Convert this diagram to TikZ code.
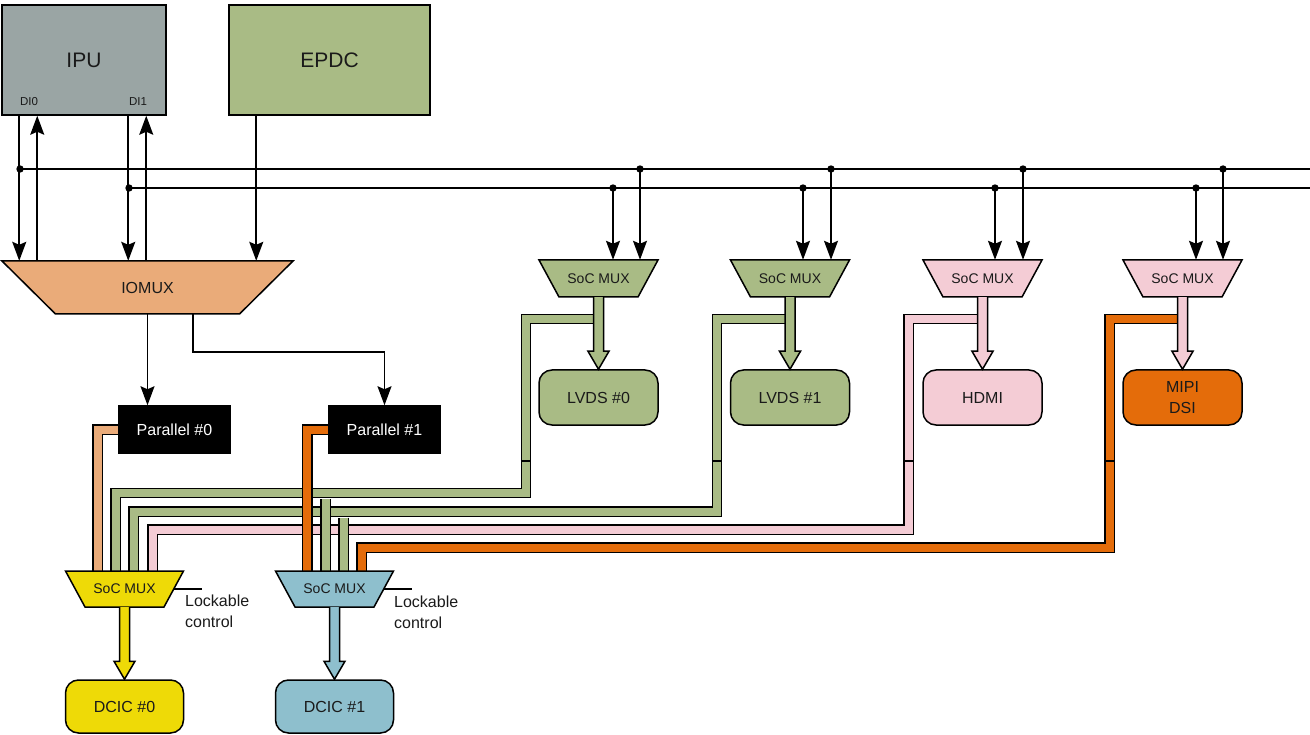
\documentclass[tikz,border=0pt]{standalone}
\usepackage{fontspec}
\setmainfont{Liberation Sans}
\usetikzlibrary{calc,arrows.meta,backgrounds}
\definecolor{ipugray}{HTML}{9AA5A4}
\definecolor{grn}{HTML}{A9BB85}
\definecolor{peach}{HTML}{EAAB79}
\definecolor{pnk}{HTML}{F4CCD5}
\definecolor{org}{HTML}{E46C0A}
\definecolor{ylw}{HTML}{EEDA07}
\definecolor{blu}{HTML}{8EBFCD}
\definecolor{txt}{HTML}{1A1A1A}
\newcommand\fsz[2]{\fontsize{#1}{#2}\selectfont}
\tikzset{
  box/.style={draw, line width=1.5pt, inner sep=0, text=txt},
  rbox/.style={box, rounded corners=13pt},
  thinl/.style={line width=1.6pt},
  arr/.style={thinl, -{Stealth[length=19pt,width=14pt,inset=3pt]}},
  pipe/.style={line width=1.4pt, double=#1, double distance=8pt, line join=miter},
  lbl/.style={inner sep=0, text=txt}
}
% name, cx, cy, top width, bottom width, height, fill, font size, text
\newcommand\muxnode[9]{%
  \draw[fill=#7, line width=1.5pt] ({#2-#4/2},{#3-#6/2}) -- ({#2+#4/2},{#3-#6/2})
     -- ({#2+#5/2},{#3+#6/2}) -- ({#2-#5/2},{#3+#6/2}) -- cycle;
  \node[lbl, minimum width=#4pt, minimum height=#6pt, font=\fsz{#8}{#8}] (#1) at (#2,#3) {#9};
}
% from node, to node, colour
\newcommand\fatarrow[3]{%
  \draw[fill=#3, line width=1.5pt, line join=miter]
    ($(#1.south)+(-5,0)$) -- ($(#2.north)+(-5,-18)$) -- ($(#2.north)+(-10.5,-18)$)
    -- (#2.north) -- ($(#2.north)+(10.5,-18)$) -- ($(#2.north)+(5,-18)$) -- ($(#1.south)+(5,0)$);
}
\begin{document}
\begin{tikzpicture}[x=1pt,y=-1pt]
\useasboundingbox (0,0) rectangle (1310,735);

% top blocks
\node[box, fill=ipugray, minimum width=164pt, minimum height=110pt, font=\fsz{21}{25}] (ipu) at (84,60) {IPU};
\node[box, fill=grn, minimum width=201pt, minimum height=110pt, font=\fsz{21}{25}] (epdc) at (329.5,60) {EPDC};
\node[lbl, font=\fsz{11.5}{14}] (di0) at (29,102) {DI0};
\node[lbl, font=\fsz{11.5}{14}] (di1) at (138,102) {DI1};

% muxes
\muxnode{iomux}{147.5}{287.5}{291}{184}{53}{peach}{16}{IOMUX}
\muxnode{mxa}{598.5}{278.5}{119}{79}{37}{grn}{14}{SoC MUX}
\muxnode{mxb}{790}{278.5}{119}{79}{37}{grn}{14}{SoC MUX}
\muxnode{mxc}{982.5}{278.5}{119}{79}{37}{pnk}{14}{SoC MUX}
\muxnode{mxd}{1182.5}{278.5}{119}{79}{37}{pnk}{14}{SoC MUX}
\muxnode{mx0}{124.5}{589}{118}{79}{36}{ylw}{14}{SoC MUX}
\muxnode{mx1}{334.5}{589}{118}{79}{36}{blu}{14}{SoC MUX}

% output blocks
\node[rbox, fill=grn, minimum width=119pt, minimum height=55pt, font=\fsz{16}{19}] (lv0) at (598.5,397.5) {LVDS \#0};
\node[rbox, fill=grn, minimum width=119pt, minimum height=55pt, font=\fsz{16}{19}] (lv1) at (790,397.5) {LVDS \#1};
\node[rbox, fill=pnk, minimum width=119pt, minimum height=55pt, font=\fsz{16}{19}] (hdmi) at (982.5,397.5) {HDMI};
\node[rbox, fill=org, minimum width=119pt, minimum height=55pt, align=center, font=\fsz{16}{21}] (mipi) at (1182.5,397.5) {MIPI\\DSI};
\node[rbox, fill=ylw, minimum width=118pt, minimum height=53pt, font=\fsz{16}{19}] (dc0) at (124.5,706.5) {DCIC \#0};
\node[rbox, fill=blu, minimum width=118pt, minimum height=53pt, font=\fsz{16}{19}] (dc1) at (334.5,706.5) {DCIC \#1};
\node[box, fill=black, text=white, minimum width=111pt, minimum height=47pt, font=\fsz{16}{19}] (p0) at (174.5,429.5) {Parallel \#0};
\node[box, fill=black, text=white, minimum width=111pt, minimum height=47pt, font=\fsz{16}{19}] (p1) at (384.5,429.5) {Parallel \#1};

% fat arrows
\fatarrow{mxa}{lv0}{grn}
\fatarrow{mxb}{lv1}{grn}
\fatarrow{mxc}{hdmi}{pnk}
\fatarrow{mxd}{mipi}{pnk}
\fatarrow{mx0}{dc0}{ylw}
\fatarrow{mx1}{dc1}{blu}

% lockable control
\draw[thinl] ($(mx0.east)+(-9.75,0)$) coordinate (lc0) -- ++(28,0) coordinate (lc0e);
\draw[thinl] ($(mx1.east)+(-9.75,0)$) coordinate (lc1) -- ++(28,0) coordinate (lc1e);
\node[lbl, anchor=west, align=left, font=\fsz{16}{21}] (lk0) at (185,611) {Lockable\\control};
\node[lbl, anchor=west, align=left, font=\fsz{16}{21}] (lk1) at (394,612) {Lockable\\control};

% bus lines
\coordinate (ba) at (20,169);
\coordinate (bb) at (129,188);
\coordinate (baE) at (1310,169);
\coordinate (bbE) at (1310,188);
\draw[thinl] (ba) -- (baE);
\draw[thinl] (bb) -- (bbE);

% IPU / EPDC connections
\path ($(ipu.south west)+(18,0)$) coordinate (i0d) ($(ipu.south west)+(36,0)$) coordinate (i0u)
      ($(ipu.south west)+(127,0)$) coordinate (i1d) ($(ipu.south west)+(145,0)$) coordinate (i1u)
      ($(epdc.south west)+(28,0)$) coordinate (ed);
\draw[arr] (i0d) -- (i0d |- iomux.north);
\draw[arr] (i0u |- iomux.north) -- (i0u);
\draw[arr] (i1d) -- (i1d |- iomux.north);
\draw[arr] (i1u |- iomux.north) -- (i1u);
\draw[arr] (ed) -- (ed |- iomux.north);

% IOMUX to parallel
\draw[arr] (iomux.south) -- (iomux.south |- p0.north);
\draw[arr] ($(iomux.south)+(45.5,0)$) -- ++(0,38) -| (p1.north);

% taps on the buses
\foreach \n/\x/\y/\m in {ta/613/188/mxa, tb/640/169/mxa, tc/803/188/mxb, td/831/169/mxb,
                         te/995/188/mxc, tf/1023/169/mxc, tg/1196/188/mxd, th/1223/169/mxd}{
  \coordinate (\n) at (\x,\y);
  \draw[arr] (\n) -- (\n |- \m.north);
  \fill (\n) circle (3.7pt);
}
\fill (ba) circle (3.7pt);
\fill (bb) circle (3.7pt);

% pipes
\begin{scope}[on background layer]
  \draw[pipe=grn] (mxa.south |- 0,319) -| (526,493) -| (115.5,580);
  \draw[pipe=grn] (mxb.south |- 0,319) -| (717,511.5) -| (133.5,580);
  \draw[pipe=pnk] (mxc.south |- 0,319) -| (908.5,529.5) -| (152.5,580);
  \draw[pipe=org] (mxd.south |- 0,319) -| (1109.5,547.5) -| (361.5,580);
  \draw[pipe=grn] (325.5,499) -- (325.5,580);
  \draw[pipe=grn] (343.5,517.5) -- (343.5,580);
  \draw[pipe=peach] (p0.center) -| (97.5,580);
  \draw[pipe=org] (p1.center) -| (307.3,580);
  \foreach \x in {526,717,908.5,1109.5}{
    \draw[thinl] ({\x-5.4},461) -- ({\x+5.4},461);
  }
\end{scope}
\end{tikzpicture}
\end{document}
